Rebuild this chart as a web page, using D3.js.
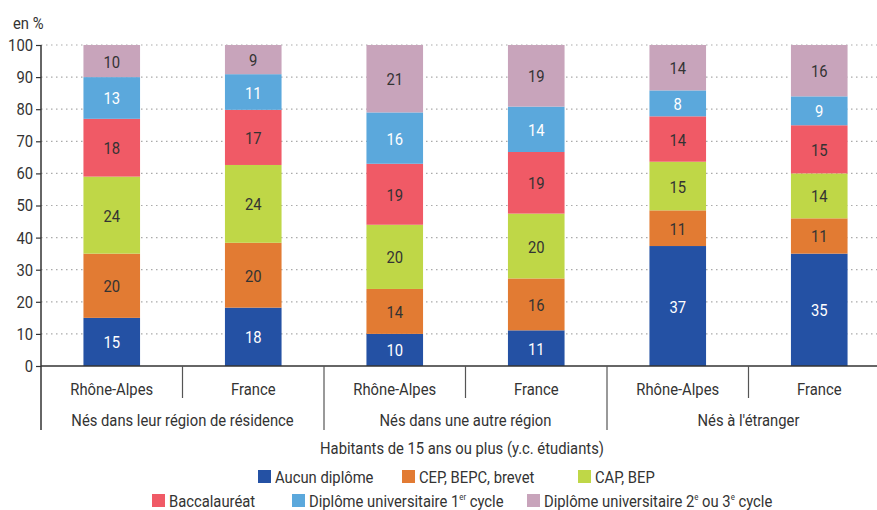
<!DOCTYPE html>
<html>
<head>
<meta charset="utf-8">
<script src="https://cdn.jsdelivr.net/npm/d3@7"></script>
<style>
  body { margin: 0; background: #fff; }
  svg text { font-family: "Roboto", "Liberation Sans", sans-serif; fill: #333; }
</style>
</head>
<body>
<svg id="chart" width="877" height="510"></svg>
<script>
// categories (two levels)
var places = ['Rhône-Alpes', 'France', 'Rhône-Alpes', 'France', 'Rhône-Alpes', 'France'];
var groups = ['Nés dans leur région de résidence', 'Nés dans une autre région', "Nés à l'étranger"];

// one array per diploma level, in stack order (bottom to top)
var aucun = [15, 18, 10, 11, 37, 35];
var cep = [20, 20, 14, 16, 11, 11];
var cap = [24, 24, 20, 20, 15, 14];
var bac = [18, 17, 19, 19, 14, 15];
var univ1 = [13, 11, 16, 14, 8, 9];
var univ2 = [10, 9, 21, 19, 14, 16];

var yTicks = [0, 10, 20, 30, 40, 50, 60, 70, 80, 90, 100];

var seriesKeys = ['aucun', 'cep', 'cap', 'bac', 'univ1', 'univ2'];
var seriesValues = [aucun, cep, cap, bac, univ1, univ2];
var colors = ['#2451a4', '#e27b33', '#bfd747', '#f05a66', '#5ba8dc', '#c8a4bb'];
var labelColors = ['#fff', '#333', '#333', '#333', '#fff', '#333'];

(function() {
  var FS = 17, SQUEEZE = 0.87;

  // narrow a text horizontally around its anchor x (the reference uses a condensed face)
  function condense(sel, ax) {
    sel.attr('transform', function() {
      var x0 = ax !== undefined ? ax : +d3.select(this).attr('x');
      return 'matrix(' + SQUEEZE + ',0,0,1,' + (x0 * (1 - SQUEEZE)) + ',0)';
    });
  }

  var rows = places.map(function(p, i) {
    var r = { idx: i };
    seriesKeys.forEach(function(k, j) { r[k] = seriesValues[j][i]; });
    return r;
  });

  var svg = d3.select('#chart');
  var mLeft = 41, mRight = 890, mTop = 45, mBottom = 366;

  var x = d3.scaleBand()
    .domain(d3.range(places.length))
    .range([mLeft, mRight])
    .paddingInner(0.6)
    .paddingOuter(0.3);
  var step = x.step();

  var y = d3.scaleLinear().domain([0, 100]).range([mBottom, mTop]);

  var stack = d3.stack().keys(seriesKeys).offset(d3.stackOffsetExpand);
  var layers = stack(rows);

  // gridlines
  svg.append('g')
    .selectAll('line')
    .data(yTicks.filter(function(t) { return t > 0; }))
    .enter().append('line')
      .attr('x1', mLeft).attr('x2', mRight)
      .attr('y1', function(t) { return y(t); })
      .attr('y2', function(t) { return y(t); })
      .attr('stroke', '#aaa')
      .attr('stroke-width', 1.2)
      .attr('stroke-dasharray', '1.5,3.5');

  // bars
  var layerG = svg.append('g')
    .selectAll('g.layer')
    .data(layers)
    .enter().append('g')
      .attr('class', 'layer')
      .attr('fill', function(d, i) { return colors[i]; });

  layerG.selectAll('rect')
    .data(function(d) { return d; })
    .enter().append('rect')
      .attr('x', function(d) { return x(d.data.idx); })
      .attr('width', x.bandwidth())
      .attr('y', function(d) { return y(d[1] * 100); })
      .attr('height', function(d) { return y(d[0] * 100) - y(d[1] * 100); });

  layerG.selectAll('text')
    .data(function(d, i) { return d.map(function(s) { return { s: s, k: i }; }); })
    .enter().append('text')
      .attr('x', function(d) { return x(d.s.data.idx) + x.bandwidth() / 2; })
      .attr('y', function(d) { return (y(d.s[0] * 100) + y(d.s[1] * 100)) / 2 + 6.5; })
      .attr('text-anchor', 'middle')
      .attr('font-size', FS)
      .style('fill', function(d) { return labelColors[d.k]; })
      .text(function(d) { return d.s.data[seriesKeys[d.k]]; })
      .call(condense);

  // y axis
  var yAxis = d3.axisLeft(y).tickValues(yTicks).tickSize(5).tickPadding(3);
  var yg = svg.append('g')
    .attr('transform', 'translate(' + mLeft + ',0)')
    .call(yAxis);
  yg.select('.domain').attr('stroke', '#333').attr('stroke-width', 1.5)
    .attr('d', 'M0,' + mTop + 'V430');
  yg.selectAll('.tick line').attr('stroke', '#333').attr('stroke-width', 1.2);
  yg.selectAll('.tick text')
    .attr('font-size', FS)
    .style('font-family', '"Roboto", sans-serif')
    .style('fill', '#333')
    .call(condense, -8);

  // baseline
  svg.append('line')
    .attr('x1', mLeft).attr('x2', mRight)
    .attr('y1', mBottom).attr('y2', mBottom)
    .attr('stroke', '#333').attr('stroke-width', 1.5);

  // category separators
  svg.append('g')
    .selectAll('line')
    .data(d3.range(1, places.length))
    .enter().append('line')
      .attr('x1', function(i) { return mLeft + i * step; })
      .attr('x2', function(i) { return mLeft + i * step; })
      .attr('y1', mBottom)
      .attr('y2', function(i) { return i % 2 === 0 ? 430 : 398; })
      .attr('stroke', '#555')
      .attr('stroke-width', 1.2);

  // category labels
  svg.append('g')
    .selectAll('text')
    .data(places)
    .enter().append('text')
      .attr('x', function(d, i) { return x(i) + x.bandwidth() / 2; })
      .attr('y', 395)
      .attr('text-anchor', 'middle')
      .attr('font-size', FS)
      .text(function(d) { return d; })
      .call(condense);

  svg.append('g')
    .selectAll('text')
    .data(groups)
    .enter().append('text')
      .attr('x', function(d, i) { return mLeft + (2 * i + 1) * step; })
      .attr('y', 426)
      .attr('text-anchor', 'middle')
      .attr('font-size', FS)
      .text(function(d) { return d; })
      .call(condense);

  svg.append('text')
    .attr('x', 462)
    .attr('y', 454)
    .attr('text-anchor', 'middle')
    .attr('font-size', FS)
    .text('Habitants de 15 ans ou plus (y.c. étudiants)')
    .call(condense);

  svg.append('text')
    .attr('x', 13)
    .attr('y', 29)
    .attr('font-size', FS)
    .text('en %')
    .call(condense);

  // legend
  var legendItems = [
    { x: 258, y: 470, label: ['Aucun diplôme'] },
    { x: 402, y: 470, label: ['CEP, BEPC, brevet'] },
    { x: 578, y: 470, label: ['CAP, BEP'] },
    { x: 152, y: 494, label: ['Baccalauréat'] },
    { x: 292, y: 494, label: ['Diplôme universitaire 1', 'er', ' cycle'] },
    { x: 527, y: 494, label: ['Diplôme universitaire 2', 'e', ' ou 3', 'e', ' cycle'] }
  ];

  var lg = svg.append('g')
    .selectAll('g')
    .data(legendItems)
    .enter().append('g')
      .attr('transform', function(d) { return 'translate(' + d.x + ',' + d.y + ')'; });

  lg.append('rect')
    .attr('width', 13).attr('height', 13)
    .attr('fill', function(d, i) { return colors[i]; });

  lg.append('text')
    .attr('x', 17)
    .attr('y', 13)
    .attr('font-size', FS)
    .each(function(d) {
      var t = d3.select(this);
      d.label.forEach(function(part, j) {
        var sup = j % 2 === 1;
        t.append('tspan')
          .attr('font-size', sup ? 9 : FS)
          .attr('dy', sup ? -7 : (j > 0 ? 7 : 0))
          .text(part);
      });
    })
    .call(condense, 17);
})();
</script>
</body>
</html>
